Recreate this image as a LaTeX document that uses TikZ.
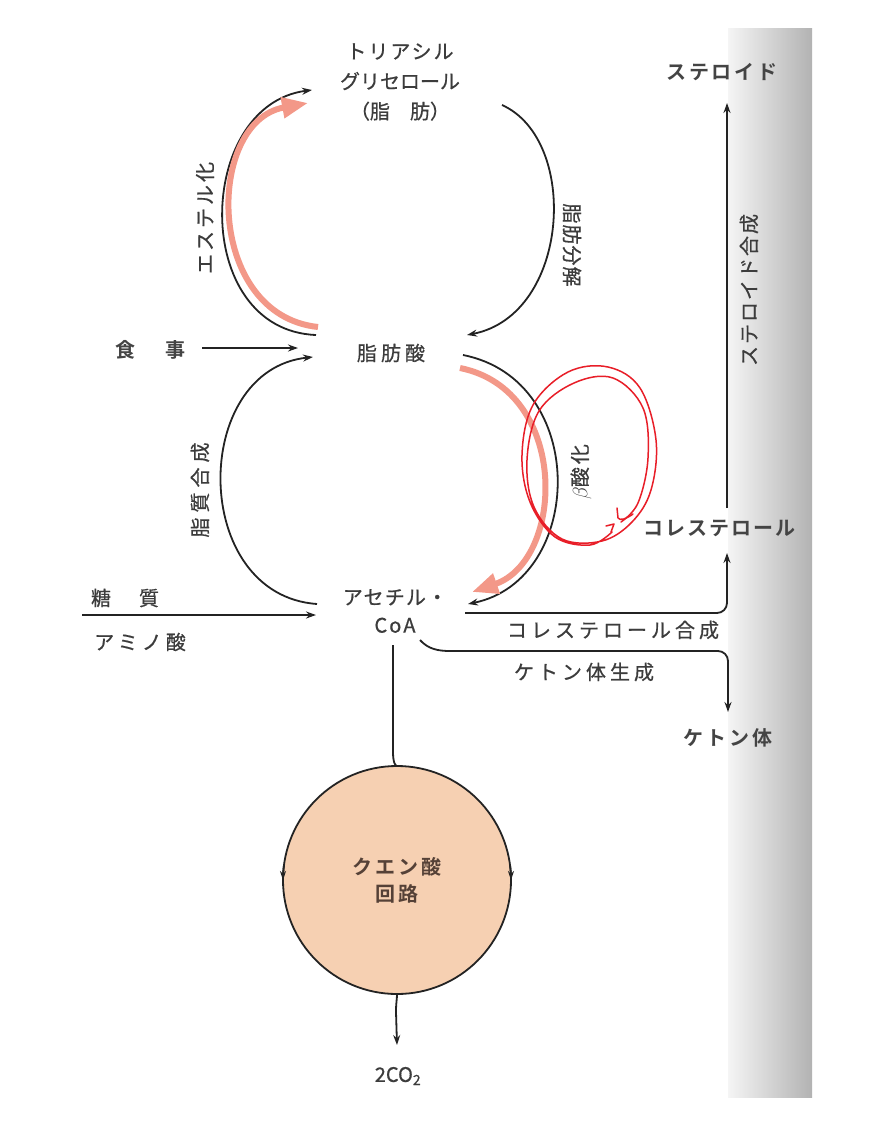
\documentclass[tikz,border=0pt]{standalone}
\usepackage{fontspec}
\newfontfamily\jp[FakeBold=0.6]{Noto Sans CJK JP}
\newfontfamily\jpb{Noto Sans CJK JP Bold}
\usetikzlibrary{arrows.meta}
\definecolor{ink}{RGB}{35,35,35}
\definecolor{txt}{RGB}{60,60,60}
\definecolor{pinkarr}{RGB}{243,152,136}
\definecolor{redpen}{RGB}{232,30,40}
\definecolor{peach}{RGB}{246,208,178}
\definecolor{tcaink}{RGB}{85,65,55}
\newcommand\lsp[1]{\addfontfeature{LetterSpace=#1}}
\begin{document}
\begin{tikzpicture}[x=1pt,y=1pt,
  lbl/.style={font=\jp\fontsize{20}{28}\selectfont, text=txt, inner sep=0pt, align=center},
  blbl/.style={font=\jpb\fontsize{20}{28}\selectfont, text=ink!85, inner sep=0pt, align=center},
  conn/.style={draw=ink, line width=1.8pt},
  arr/.style={conn, -{Stealth[length=10pt,width=7pt]}},
  pinkarrow/.style={draw=pinkarr, line width=6pt, -{Triangle[length=26pt,width=20pt]}},
  pen/.style={draw=redpen, line width=1.5pt, line cap=round, line join=round}]

\useasboundingbox (0,0) rectangle (877,-1125);
\fill[white] (0,0) rectangle (877,-1125);
\shade[left color=black!4, right color=black!30] (728,-28) rectangle (812,-1097);

% ---------- nodes ----------
\node[lbl, font=\jp\fontsize{20}{30}\selectfont] (tag) at (400,-82) {\lsp{10}トリアシル\\グリセロール\\（脂　肪）};
\node[lbl] (ffa) at (391,-353) {\lsp{20}脂肪酸};
\node[lbl] (acoa) at (395,-611) {\lsp{6}アセチル・\\\lsp{10}CoA};
\node[blbl] (meal) at (150,-350) {\lsp{25}食　事};
\node[lbl] (sugar) at (125,-598) {\lsp{20}糖　質};
\node[lbl] (amino) at (140,-642) {\lsp{20}アミノ酸};
\node[blbl] (steroid) at (722,-72) {\lsp{13}ステロイド};
\node[blbl, anchor=west] (chol) at (643,-528) {\lsp{10}コレステロール};
\node[blbl] (ketone) at (728,-738) {\lsp{15}ケトン体};
\node[draw=ink, line width=1.8pt, fill=peach, circle, minimum size=228pt, inner sep=0pt, outer sep=0pt,
      font=\jpb\fontsize{20}{27}\selectfont, text=tcaink, align=center] (tca) at (397,-880)
      {\lsp{15}クエン酸\\\lsp{15}回路};
\node[lbl] (co2) at (398,-1076) {2CO\textsubscript{2}};

% edge labels
\node[lbl, rotate=90] (l-ester) at (205,-218) {\lsp{15}エステル化};
\node[lbl, rotate=-90] (l-lipo) at (572,-245) {\lsp{5}脂肪分解};
\node[lbl, rotate=90] (l-lipid) at (200,-490) {\lsp{25}脂質合成};
\node[lbl, rotate=90] (l-beta) at (581,-472) {$\beta$\lsp{15}酸化};
\node[lbl, rotate=90] (l-ster) at (749,-290) {\lsp{10}ステロイド合成};
\node[lbl] (l-chol) at (613,-630) {\lsp{20}コレステロール合成};
\node[lbl] (l-ket) at (584,-672) {\lsp{20}ケトン体生成};

% ---------- anchor coordinates ----------
\coordinate (tag-l) at (312,-90);
\coordinate (tag-r) at (502,-105);
\coordinate (ffa-tl) at (316,-335);
\coordinate (ffa-tr) at (467,-335);
\coordinate (ffa-bl) at (313,-357);
\coordinate (ffa-br) at (463,-355);
\coordinate (ffa-l) at (298,-348);
\coordinate (meal-r) at (202,-348);
\coordinate (acoa-tl) at (317,-604);
\coordinate (acoa-tr) at (468,-604);
\coordinate (acoa-l) at (316,-615);
\coordinate (sugar-l) at (82,-615);
\coordinate (acoa-r) at (465,-613);
\coordinate (acoa-br) at (420,-640);
\coordinate (acoa-b) at (393,-645);
\coordinate (chol-in) at (727,-553);
\coordinate (chol-out) at (727,-508);
\coordinate (ster-in) at (727,-103);
\coordinate (ket-in) at (728,-712);
\coordinate (co2-in) at (397,-1045);

% ---------- cycle arcs ----------
\draw[arr] (ffa-tl) .. controls (190,-330) and (195,-105) .. (tag-l);
\draw[pinkarrow] (318,-327) .. controls (205,-315) and (205,-122) .. (308,-103);
\draw[arr] (tag-r) .. controls (580,-140) and (570,-315) .. (ffa-tr);
\draw[arr] (acoa-tl) .. controls (190,-595) and (190,-370) .. (ffa-bl);
\draw[arr] (ffa-br) .. controls (590,-380) and (585,-580) .. (acoa-tr);
\draw[pinkarrow] (460,-368) .. controls (570,-390) and (565,-560) .. (472,-592);

% ---------- straight connectors ----------
\draw[arr] (meal-r) -- (ffa-l);
\draw[arr] (sugar-l) -- (acoa-l);
\draw[arr, rounded corners=10pt] (acoa-r) -- (727,-613) -- (chol-in);
\draw[arr] (chol-out) -- (ster-in);
\draw[arr, rounded corners=10pt] (acoa-br) .. controls (428,-649) and (438,-651) .. (460,-651) -- (728,-651) -- (ket-in);
\draw[conn] (acoa-b) -- (393,-752) .. controls (393,-764) and (396,-766) .. (tca.north);
\draw[arr] (tca.south) .. controls (397,-1000) and (396,-1002) .. (396,-1012) -- (co2-in);

% circle direction marks
\draw[draw=ink, line width=1.8pt, -{Stealth[length=9pt,width=6pt]}] (tca.172) arc[start angle=172, end angle=180, radius=114pt];
\draw[draw=ink, line width=1.8pt, -{Stealth[length=9pt,width=6pt]}] (tca.8) arc[start angle=8, end angle=0, radius=114pt];

% ---------- red pen annotation ----------
\draw[pen] plot[smooth, tension=0.6] coordinates {
  (612,-532) (590,-545) (555,-537) (530,-502) (522,-455) (533,-405) (568,-372) (608,-367)
  (640,-388) (656,-440) (651,-490) (632,-522) (602,-541) (562,-539) (534,-507) (527,-460)
  (539,-411) (574,-383) (613,-378) (643,-408) (648,-458) (638,-503) (621,-522)};
\draw[pen] (617,-508) -- (618,-518) .. controls (620,-521) and (626,-519) .. (633,-514);
\draw[pen] (606,-526) -- (614,-524) -- (611,-532);
\end{tikzpicture}
\end{document}
